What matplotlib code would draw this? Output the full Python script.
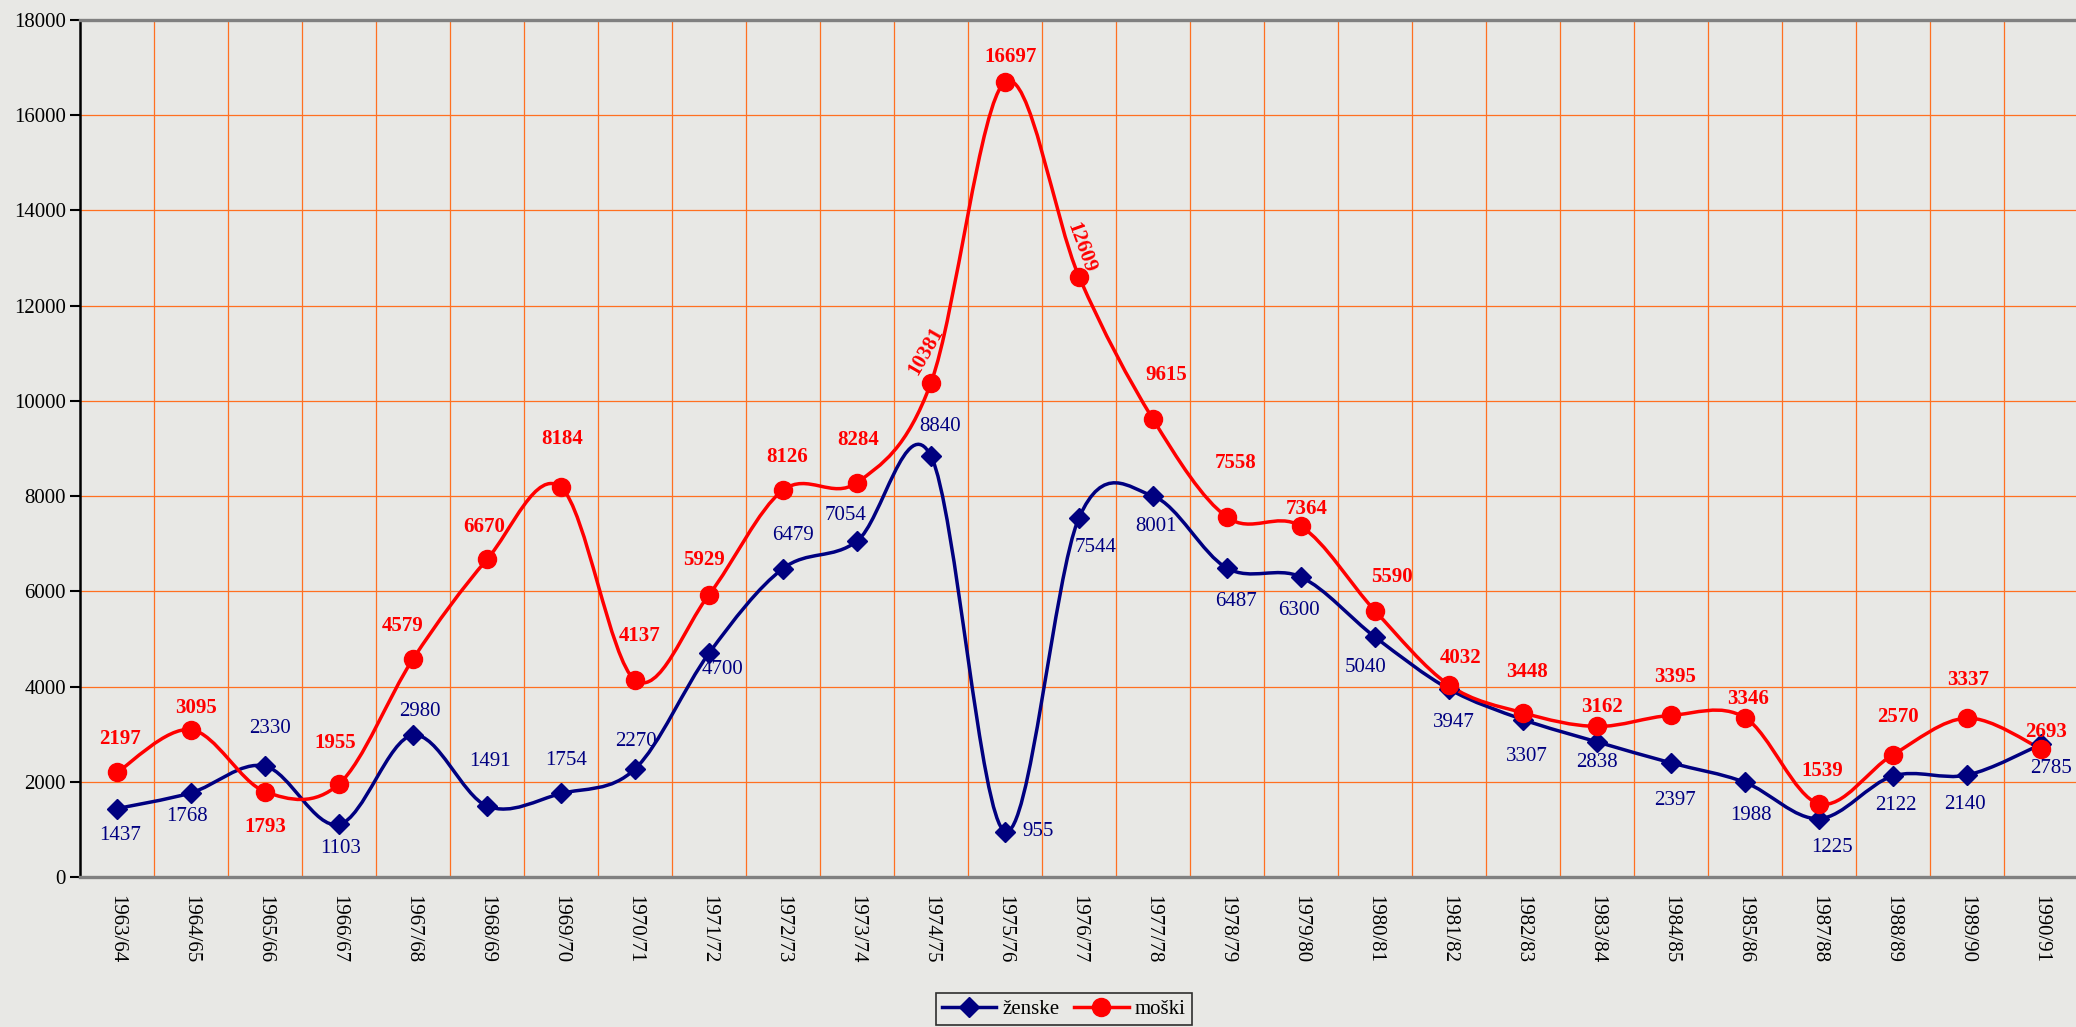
import numpy as np
import matplotlib.pyplot as plt
from matplotlib.path import Path
from matplotlib.patches import PathPatch
from matplotlib.lines import Line2D

plt.rcParams['font.family'] = ['Liberation Serif', 'DejaVu Serif']

# data
seasons = ['1963/64', '1964/65', '1965/66', '1966/67', '1967/68', '1968/69', '1969/70',
           '1970/71', '1971/72', '1972/73', '1973/74', '1974/75', '1975/76', '1976/77',
           '1977/78', '1978/79', '1979/80', '1980/81', '1981/82', '1982/83', '1983/84',
           '1984/85', '1985/86', '1987/88', '1988/89', '1989/90', '1990/91']
zenske = [1437, 1768, 2330, 1103, 2980, 1491, 1754, 2270, 4700, 6479, 7054, 8840, 955,
          7544, 8001, 6487, 6300, 5040, 3947, 3307, 2838, 2397, 1988, 1225, 2122, 2140, 2785]
moski = [2197, 3095, 1793, 1955, 4579, 6670, 8184, 4137, 5929, 8126, 8284, 10381, 16697,
         12609, 9615, 7558, 7364, 5590, 4032, 3448, 3162, 3395, 3346, 1539, 2570, 3337, 2693]

# label offsets in pixels (dx, dy up)
zen_off = [(3, -27), (-4, -24), (5, 38), (2, -24), (7, 24), (3, 45), (5, 33), (1, 27),
           (13, -16), (10, 33), (-11, 26), (9, 30), (33, 0), (17, -30), (3, -30), (9, -33),
           (-2, -33), (-9, -30), (5, -33), (4, -37), (0, -21), (4, -38), (6, -33), (13, -29),
           (3, -30), (-2, -29), (10, -24)]
mos_off = [(3, 33), (5, 22), (0, -35), (-4, 41), (-10, 33), (-3, 32), (1, 48), (5, 44),
           (-5, 35), (4, 33), (1, 43), (-5, 32), (6, 25), (2, 29), (13, 44), (9, 54),
           (6, 17), (17, 34), (12, 27), (4, 41), (5, 19), (4, 38), (3, 19), (3, 33),
           (5, 38), (1, 38), (5, 17)]
mos_rot = {11: 60, 13: -70}

NAVY = '#000080'
RED = '#ff0000'
GRID = '#ff7020'
BG = '#e8e8e5'


def smooth_path(x, y):
    # excel style smoothed line (bezier, 1/6 tension)
    pts = np.column_stack([x, y]).astype(float)
    n = len(pts)
    verts = [pts[0]]
    codes = [Path.MOVETO]
    for i in range(n - 1):
        p0 = pts[max(i - 1, 0)]
        p1 = pts[i]
        p2 = pts[i + 1]
        p3 = pts[min(i + 2, n - 1)]
        verts += [p1 + (p2 - p0) / 6, p2 - (p3 - p1) / 6, p2]
        codes += [Path.CURVE4] * 3
    return Path(verts, codes)


W, H = 2076, 1027
fig = plt.figure(figsize=(W / 100, H / 100), dpi=100, facecolor=BG)
ax = fig.add_axes([80 / W, 1 - 877 / H, 1998 / W, 857 / H], facecolor=BG)

x = np.arange(len(seasons))

ax.add_patch(PathPatch(smooth_path(x, zenske), fill=False, edgecolor=NAVY, lw=2.5, zorder=3))
ax.add_patch(PathPatch(smooth_path(x, moski), fill=False, edgecolor=RED, lw=2.5, zorder=3))
ax.plot(x, zenske, ls='none', marker='D', ms=10.5, color=NAVY, zorder=4)
ax.plot(x, moski, ls='none', marker='o', ms=13, color=RED, zorder=5)

for i, v in enumerate(zenske):
    dx, dy = zen_off[i]
    ax.annotate(str(v), (i, v), xytext=(dx, dy), textcoords='offset pixels',
                ha='center', va='center', color=NAVY, fontsize=15, zorder=6)
for i, v in enumerate(moski):
    dx, dy = mos_off[i]
    ax.annotate(str(v), (i, v), xytext=(dx, dy), textcoords='offset pixels',
                ha='center', va='center', color=RED, fontsize=15, fontweight='bold',
                rotation=mos_rot.get(i, 0), zorder=6)

ax.set_xlim(-0.5, len(seasons) - 0.5)
ax.set_ylim(0, 18000)
ax.set_yticks(range(0, 18001, 2000))
ax.set_yticklabels([str(t) for t in range(0, 18001, 2000)], fontsize=15)
ax.set_xticks(x)
ax.set_xticklabels(seasons, rotation=270, fontsize=15, va='top', ha='center')
ax.set_xticks(np.arange(0.5, len(seasons) - 0.5, 1), minor=True)
ax.tick_params(axis='x', which='both', length=0, pad=13)
ax.tick_params(axis='y', length=7, width=1.5, pad=3)

ax.set_axisbelow(True)
ax.grid(which='minor', axis='x', color=GRID, lw=0.9)
ax.grid(which='major', axis='y', color=GRID, lw=0.9)
ax.grid(which='major', axis='x', visible=False)

ax.spines['left'].set_color('black')
ax.spines['left'].set_linewidth(1.8)
for s in ['top', 'bottom']:
    ax.spines[s].set_color('#808080')
    ax.spines[s].set_linewidth(2.4)
ax.spines['right'].set_visible(False)

handles = [Line2D([], [], color=NAVY, lw=2.5, marker='D', ms=10.5),
           Line2D([], [], color=RED, lw=2.5, marker='o', ms=13)]
leg = fig.legend(handles, ['ženske', 'moški'], loc='upper center',
                 bbox_to_anchor=(1064 / W, 1 - 993 / H), ncol=2, fontsize=15,
                 frameon=True, fancybox=False, edgecolor='black',
                 handlelength=2.6, handletextpad=0.3, columnspacing=0.7,
                 borderpad=0.3, borderaxespad=0)
leg.get_frame().set_facecolor('none')
leg.get_frame().set_linewidth(1.2)

fig.savefig('out.png', dpi=100, facecolor=BG)
